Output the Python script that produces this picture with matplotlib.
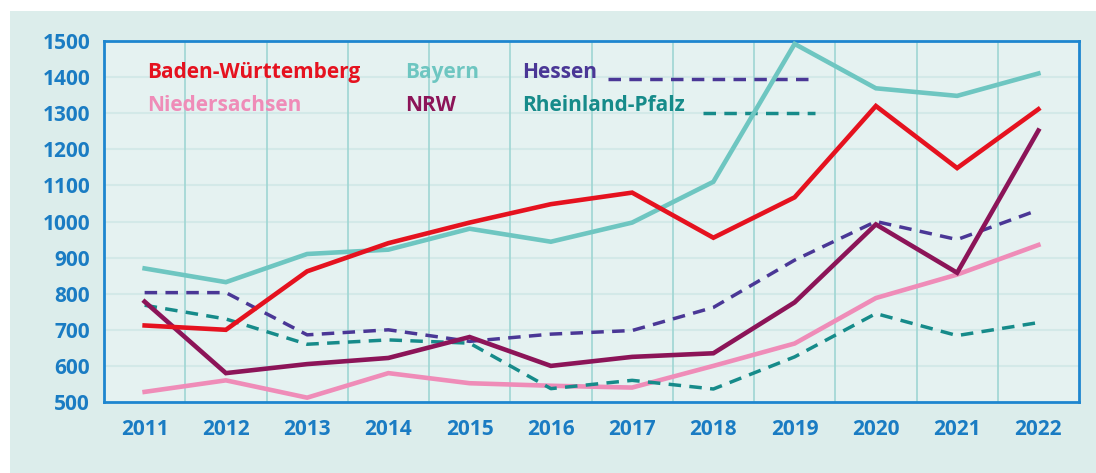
import matplotlib
matplotlib.use("Agg")
import matplotlib.pyplot as plt
from matplotlib.lines import Line2D

years = [2011, 2012, 2013, 2014, 2015, 2016, 2017, 2018, 2019, 2020, 2021, 2022]
baden_wuerttemberg = [712, 700, 862, 940, 997, 1048, 1080, 955, 1067, 1320, 1148, 1311]
bayern = [870, 832, 910, 922, 980, 944, 997, 1110, 1492, 1369, 1348, 1410]
hessen = [803, 803, 686, 700, 668, 688, 698, 762, 893, 1000, 950, 1032]
niedersachsen = [528, 560, 512, 580, 552, 545, 540, 600, 662, 788, 853, 935]
nrw = [778, 580, 605, 622, 680, 600, 625, 635, 776, 992, 858, 1252]
rheinland_pfalz = [768, 730, 660, 672, 663, 537, 560, 536, 625, 745, 684, 720]
yticks = [500, 600, 700, 800, 900, 1000, 1100, 1200, 1300, 1400, 1500]

plt.rcParams['font.family'] = ['Open Sans', 'DejaVu Sans']

fig = plt.figure(figsize=(10.96, 4.73), dpi=100)
fig.patch.set_facecolor('white')
# background panel
bg = plt.Rectangle((10 / 1096, 0), 1 - 10 / 1096, 1 - 11 / 473, transform=fig.transFigure,
                   facecolor='#dcedeb', edgecolor='none', zorder=-10)
fig.patches.append(bg)

L, R, T, B = 104 / 1096, 1079 / 1096, 1 - 41 / 473, 1 - 402 / 473
ax = fig.add_axes([L, B, R - L, T - B])
ax.set_zorder(1)
ax.set_facecolor('#e5f2f1')
ax.set_xlim(2010.5, 2022.5)
ax.set_ylim(500, 1500)

for v in yticks[1:-1]:
    ax.axhline(v, color='#d3e9e8', lw=1.5, zorder=1)
for y in years[:-1]:
    ax.axvline(y + 0.5, color='#9fd6d3', lw=1.2, zorder=1)

c_bw = '#e5121f'
c_by = '#6ec6c1'
c_he = '#4a3796'
c_ni = '#ef8cb8'
c_nrw = '#8c1458'
c_rp = '#168b8a'

SW = 3.3
DW = 2.5
DASH = [3.6, 2.4]

ax.plot(years, niedersachsen, color=c_ni, lw=SW, zorder=3, solid_joinstyle='miter')
l_rp, = ax.plot(years, rheinland_pfalz, color=c_rp, lw=DW, zorder=3)
l_rp.set_dashes(DASH)
l_he, = ax.plot(years, hessen, color=c_he, lw=DW, zorder=3)
l_he.set_dashes(DASH)
ax.plot(years, nrw, color=c_nrw, lw=SW, zorder=4, solid_joinstyle='miter')
ax.plot(years, bayern, color=c_by, lw=SW, zorder=5, solid_joinstyle='miter')
ax.plot(years, baden_wuerttemberg, color=c_bw, lw=SW, zorder=6, solid_joinstyle='miter')

for s in ax.spines.values():
    s.set_color('#1e86cf')
    s.set_linewidth(2)

ax.set_xticks(years)
ax.set_xticklabels([str(y) for y in years])
ax.set_yticks(yticks)
ax.set_yticklabels([str(v) for v in yticks])
ax.tick_params(length=0, colors='#1a7cc3', labelsize=15)
ax.tick_params(axis='x', pad=12)
ax.tick_params(axis='y', pad=10)
for lab in ax.get_xticklabels() + ax.get_yticklabels():
    lab.set_fontweight('bold')

def fx(px):
    return (px - 104) / (1079 - 104)

def fy(py):
    return (402 - py) / (402 - 41)

legend_items = [
    ('Baden-Württemberg', c_bw, 147, 72),
    ('Niedersachsen', c_ni, 147, 105),
    ('Bayern', c_by, 405, 72),
    ('NRW', c_nrw, 405, 105),
    ('Hessen', c_he, 522, 72),
    ('Rheinland-Pfalz', c_rp, 522, 105),
]
for txt, col, px, py in legend_items:
    ax.text(fx(px), fy(py), txt, transform=ax.transAxes, color=col, fontsize=15,
            fontweight='bold', ha='left', va='center', zorder=7)

lh = Line2D([fx(608), fx(815)], [fy(79), fy(79)], transform=ax.transAxes, color=c_he, lw=DW, zorder=4)
lh.set_dashes(DASH)
ax.add_line(lh)
lr = Line2D([fx(703), fx(815)], [fy(113), fy(113)], transform=ax.transAxes, color=c_rp, lw=DW, zorder=4)
lr.set_dashes(DASH)
ax.add_line(lr)

fig.savefig('out.png', dpi=100, facecolor=fig.get_facecolor())
